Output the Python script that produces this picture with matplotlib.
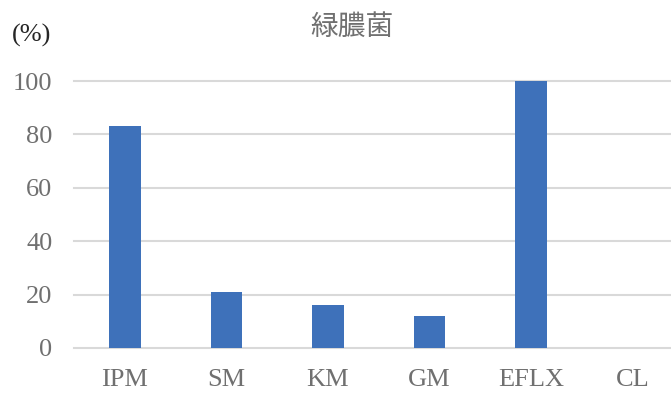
import matplotlib.pyplot as plt

# data
categories = ['IPM', 'SM', 'KM', 'GM', 'EFLX', 'CL']
values = [83, 21, 16, 12, 100, 0]
yticks = [0, 20, 40, 60, 80, 100]

fig = plt.figure(figsize=(6.71, 3.94), dpi=100)
ax = fig.add_axes([74 / 671, 46 / 394, 1 - 74 / 671, 267 / 394])

ax.bar(range(len(categories)), values, width=0.31, color='#3E71BA', zorder=3)

ax.set_xlim(-0.5, 5.38)
ax.set_ylim(0, 100)
ax.set_yticks(yticks)
ax.set_xticks(range(len(categories)))
ax.set_xticklabels(categories)

for y in yticks:
    ax.axhline(y, color='#D9D9D9', lw=1.5, zorder=1, clip_on=False)

for s in ax.spines.values():
    s.set_visible(False)
ax.tick_params(length=0, labelsize=19, labelcolor='#707070', pad=15)
ax.tick_params(axis='y', pad=15.5)
for lab in ax.get_xticklabels() + ax.get_yticklabels():
    lab.set_family('Liberation Serif')

fig.text(12 / 671, 1 - 35 / 394, '(%)', fontsize=19, family='Liberation Serif',
         color='#262626', va='center', ha='left')
fig.text(352 / 671, 1 - 27 / 394, '緑膿菌', fontsize=20,
         family=['Noto Sans CJK JP', 'DejaVu Sans'], color='#707070',
         va='center', ha='center')

fig.savefig('out.png', dpi=100)
